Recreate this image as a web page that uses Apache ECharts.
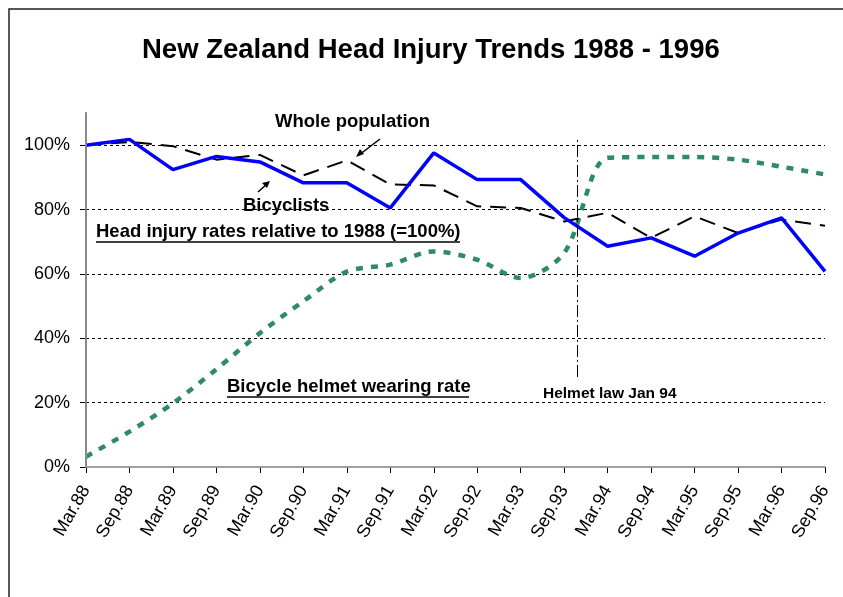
<!DOCTYPE html>
<html>
<head>
<meta charset="utf-8">
<script src="https://cdn.jsdelivr.net/npm/echarts@6/dist/echarts.min.js"></script>
<style>
  html, body { margin: 0; padding: 0; background: #fff; }
  #chart { width: 843px; height: 597px; }
</style>
</head>
<body>
<div id="chart"></div>
<script>
var periods = ['Mar.88', 'Sep.88', 'Mar.89', 'Sep.89', 'Mar.90', 'Sep.90', 'Mar.91', 'Sep.91', 'Mar.92',
    'Sep.92', 'Mar.93', 'Sep.93', 'Mar.94', 'Sep.94', 'Mar.95', 'Sep.95', 'Mar.96', 'Sep.96'];
var bicyclists = [100, 101.8, 92.4, 96.5, 94.8, 88.3, 88.3, 80.5, 97.6, 89.3, 89.3, 77.5, 68.6, 71.2, 65.5, 72.7, 77.4, 60.8];
var wholePopulation = [100, 101, 99.7, 95.5, 97, 90.6, 95.3, 87.8, 87.5, 81, 80.5, 76.3, 79, 71.2, 77.9, 72.7, 76.9, 75];
var helmetRate = [3.2, 11, 19.8, 30.4, 41.6, 51.5, 60.7, 62.9, 67, 64.4, 58.7, 66.5, 96.1, 96.3, 96.3, 95.5, 93.3, 90.9];
var yTicks = [0, 20, 40, 60, 80, 100];
var helmetLaw = 11.3;   // Jan 94, between Sep.93 and Mar.94
var helmetLawSpan = [28, 102];

function toPoints(arr) {
    return arr.map(function (v, i) { return [i, v]; });
}

var chart = echarts.init(document.getElementById('chart'));
var font = 'Arial, "Liberation Sans", sans-serif';

var option = {
    backgroundColor: '#fff',
    animation: false,
    title: {
        text: 'New Zealand Head Injury Trends 1988 - 1996',
        left: 137,
        top: 31,
        textStyle: {fontFamily: font, fontSize: 27.5, fontWeight: 'bold', color: '#000'}
    },
    grid: {left: 86, right: 18, top: 113, bottom: 130},
    xAxis: [{
        type: 'value',
        min: 0,
        max: periods.length - 1,
        interval: 1,
        axisLine: {lineStyle: {color: '#808080', width: 1.5}},
        axisTick: {length: 6, lineStyle: {color: '#000'}},
        axisLabel: {
            rotate: 60,
            margin: 20,
            fontFamily: font,
            fontSize: 18,
            color: '#000',
            formatter: function (v) { return periods[v] || ''; }
        },
        splitLine: {show: false}
    }, {
        type: 'value',
        position: 'top',
        min: 0,
        max: 1,
        z: 5,
        axisLine: {show: true, lineStyle: {color: '#a0a0a0', width: 1.5}},
        axisTick: {show: false},
        axisLabel: {show: false},
        splitLine: {show: false}
    }],
    yAxis: [{
        type: 'value',
        min: 0,
        max: 110,
        interval: 20,
        axisLine: {show: true, lineStyle: {color: '#000', width: 1.5}},
        axisTick: {show: true, length: 6, lineStyle: {color: '#000'}},
        axisLabel: {
            showMaxLabel: false,
            margin: 16,
            fontFamily: font,
            fontSize: 18,
            color: '#000',
            formatter: function (v) { return yTicks.indexOf(v) >= 0 ? v + '%' : ''; }
        },
        splitLine: {
            show: true,
            showMinLine: false,
            showMaxLine: false,
            lineStyle: {color: '#000', type: [3, 3], width: 1}
        }
    }, {
        type: 'value',
        position: 'right',
        min: 0,
        max: 1,
        z: 5,
        axisLine: {show: true, lineStyle: {color: '#a0a0a0', width: 1.5}},
        axisTick: {show: false},
        axisLabel: {show: false},
        splitLine: {show: false}
    }],
    series: [
        {
            name: 'Bicycle helmet wearing rate',
            type: 'line',
            smooth: 0.3,
            showSymbol: false,
            data: toPoints(helmetRate),
            lineStyle: {color: '#2e8b62', width: 4.5, type: [7, 8], cap: 'butt'},
            z: 2
        },
        {
            name: 'Whole population',
            type: 'line',
            showSymbol: false,
            data: toPoints(wholePopulation),
            lineStyle: {color: '#000', width: 2, type: [16, 9]},
            z: 3,
            markLine: {
                silent: true,
                symbol: 'none',
                label: {show: false},
                lineStyle: {color: '#000', width: 1, type: [12, 3, 2, 3]},
                data: [[{coord: [helmetLaw, helmetLawSpan[0]]}, {coord: [helmetLaw, helmetLawSpan[1]]}]]
            }
        },
        {
            name: 'Bicyclists',
            type: 'line',
            showSymbol: false,
            data: toPoints(bicyclists),
            lineStyle: {color: '#0000ff', width: 3.5},
            z: 4
        }
    ],
    graphic: [
        // outer frame
        {type: 'rect', shape: {x: 9, y: 9, width: 900, height: 700}, style: {fill: null, stroke: '#222', lineWidth: 1.5}, silent: true},
        // annotations
        {type: 'text', left: 275, top: 112, style: {text: 'Whole population', font: 'bold 18.5px ' + font, fill: '#000'}},
        {type: 'line', shape: {x1: 380, y1: 139, x2: 359, y2: 155}, style: {stroke: '#000', lineWidth: 1.5}},
        {type: 'polygon', shape: {points: [[356, 157], [360, 149], [364, 154]]}, style: {fill: '#000'}},
        {type: 'text', left: 243, top: 196, style: {text: 'Bicyclists', font: 'bold 18.5px ' + font, fill: '#000'}},
        {type: 'line', shape: {x1: 258, y1: 192, x2: 267, y2: 184}, style: {stroke: '#000', lineWidth: 1.5}},
        {type: 'polygon', shape: {points: [[270, 181], [262, 183], [267, 188]]}, style: {fill: '#000'}},
        {type: 'text', left: 96, top: 222, style: {text: 'Head injury rates relative to 1988 (=100%)', font: 'bold 18.5px ' + font, fill: '#000'}},
        {type: 'line', shape: {x1: 96, y1: 242, x2: 460, y2: 242}, style: {stroke: '#000', lineWidth: 1.5}},
        {type: 'text', left: 227, top: 377, style: {text: 'Bicycle helmet wearing rate', font: 'bold 18.5px ' + font, fill: '#000'}},
        {type: 'line', shape: {x1: 227, y1: 397, x2: 469, y2: 397}, style: {stroke: '#000', lineWidth: 1.5}},
        {type: 'text', left: 543, top: 386, style: {text: 'Helmet law Jan 94', font: 'bold 15.5px ' + font, fill: '#000'}}
    ]
};

chart.setOption(option);
</script>
</body>
</html>
